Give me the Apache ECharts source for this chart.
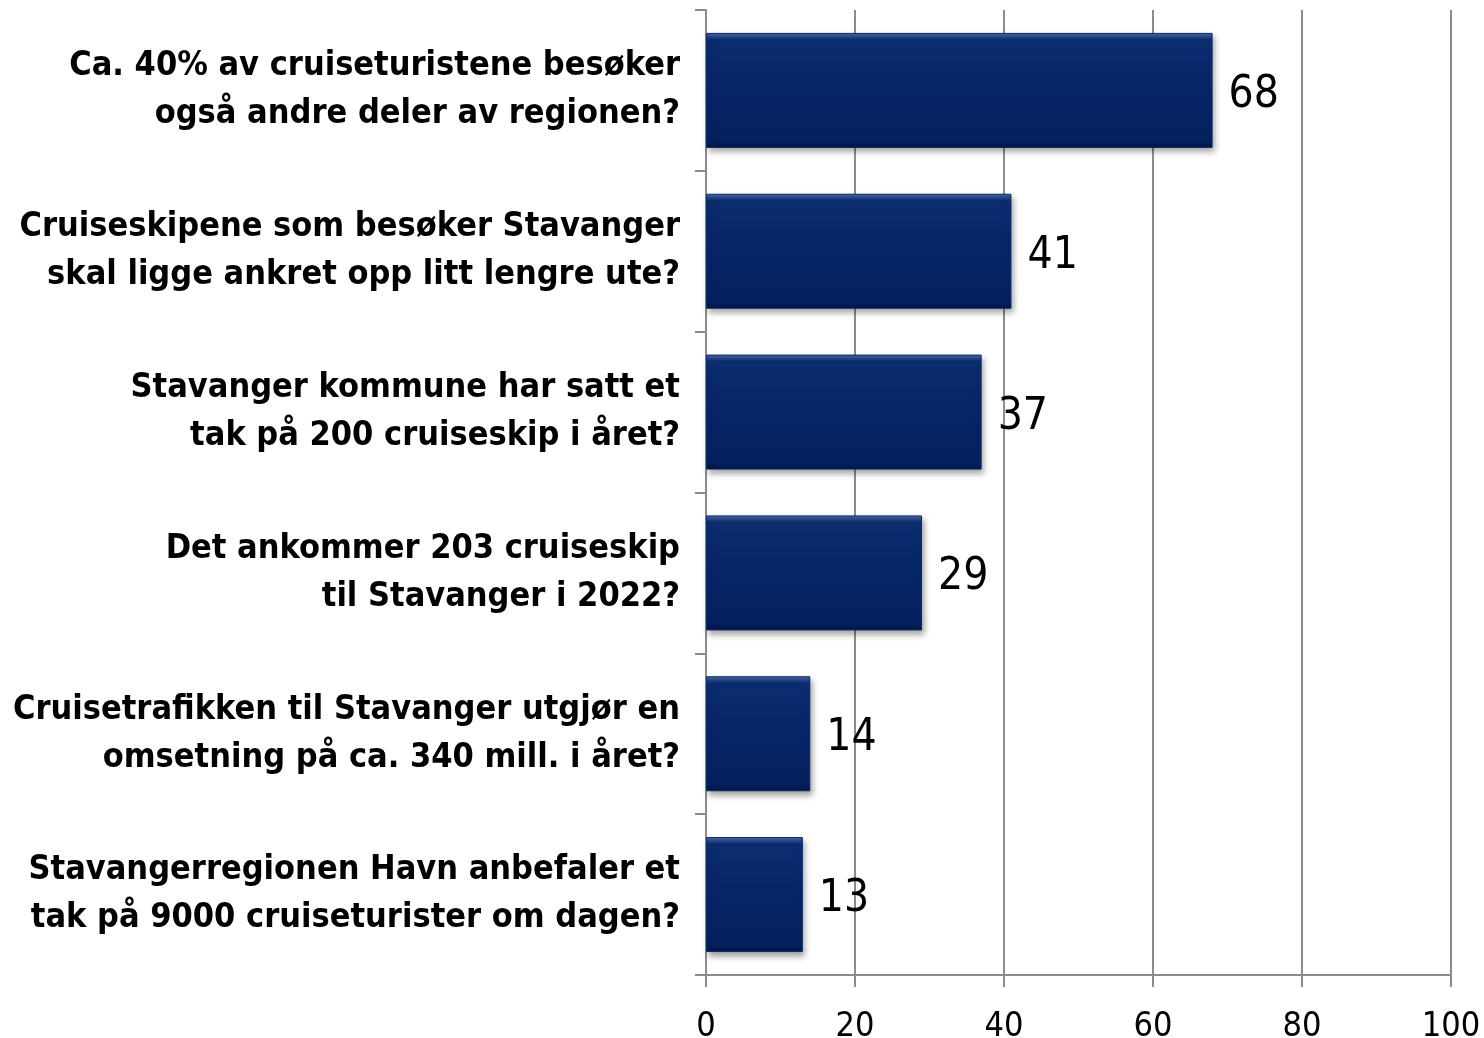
<!DOCTYPE html>
<html>
<head>
<meta charset="utf-8">
<script src="https://cdn.jsdelivr.net/npm/echarts@6/dist/echarts.min.js"></script>
<style>
    html, body { margin: 0; padding: 0; background: #fff; }
    #chart { width: 1484px; height: 1038px; }
</style>
</head>
<body>
<div id="chart"></div>
<script>
const categories = [
    "Ca. 40% av cruiseturistene besøker\nogså andre deler av regionen?",
    "Cruiseskipene som besøker Stavanger\nskal ligge ankret opp litt lengre ute?",
    "Stavanger kommune har satt et\ntak på 200 cruiseskip i året?",
    "Det ankommer 203 cruiseskip\ntil Stavanger i 2022?",
    "Cruisetrafikken til Stavanger utgjør en\nomsetning på ca. 340 mill. i året?",
    "Stavangerregionen Havn anbefaler et\ntak på 9000 cruiseturister om dagen?"
];
const values = [68, 41, 37, 29, 14, 13];

const chart = echarts.init(document.getElementById("chart"));
const fontFamily = "'DejaVu Sans Condensed', 'Liberation Sans', sans-serif";

const option = {
    backgroundColor: "#ffffff",
    animation: false,
    grid: {
        left: 706,
        right: 33,
        top: 10,
        bottom: 63,
        containLabel: false,
        outerBoundsMode: "none"
    },
    xAxis: {
        type: "value",
        min: 0,
        max: 100,
        interval: 20,
        axisLine: {
            show: true,
            lineStyle: { color: "#8c8c8c", width: 2 }
        },
        axisTick: {
            show: true,
            length: 12,
            lineStyle: { color: "#8c8c8c", width: 2 }
        },
        axisLabel: {
            margin: 35,
            fontSize: 34,
            color: "#000",
            fontFamily: fontFamily
        },
        splitLine: {
            show: true,
            lineStyle: { color: "#8c8c8c", width: 2 }
        }
    },
    yAxis: {
        type: "category",
        inverse: true,
        data: categories,
        axisLine: {
            show: true,
            lineStyle: { color: "#8c8c8c", width: 2 }
        },
        axisTick: {
            show: true,
            length: 11,
            lineStyle: { color: "#8c8c8c", width: 2 }
        },
        axisLabel: {
            margin: 26,
            fontSize: 34,
            fontWeight: "bold",
            lineHeight: 48,
            color: "#000",
            align: "right",
            fontFamily: fontFamily
        }
    },
    series: [{
        type: "bar",
        data: values,
        barWidth: 115,
        itemStyle: {
            color: new echarts.graphic.LinearGradient(0, 0, 0, 1, [
                { offset: 0, color: "#4a6aab" },
                { offset: 0.06, color: "#0c2d70" },
                { offset: 0.5, color: "#062567" },
                { offset: 0.94, color: "#05215e" },
                { offset: 1, color: "#021444" }
            ]),
            borderColor: "#0a2a66",
            borderWidth: 1,
            shadowColor: "rgba(0, 0, 0, 0.35)",
            shadowBlur: 6,
            shadowOffsetX: 2,
            shadowOffsetY: 4
        },
        label: {
            show: true,
            position: "right",
            distance: 16,
            offset: [0, 5],
            fontSize: 44,
            color: "#000",
            fontFamily: fontFamily
        }
    }]
};
chart.setOption(option);
</script>
</body>
</html>
